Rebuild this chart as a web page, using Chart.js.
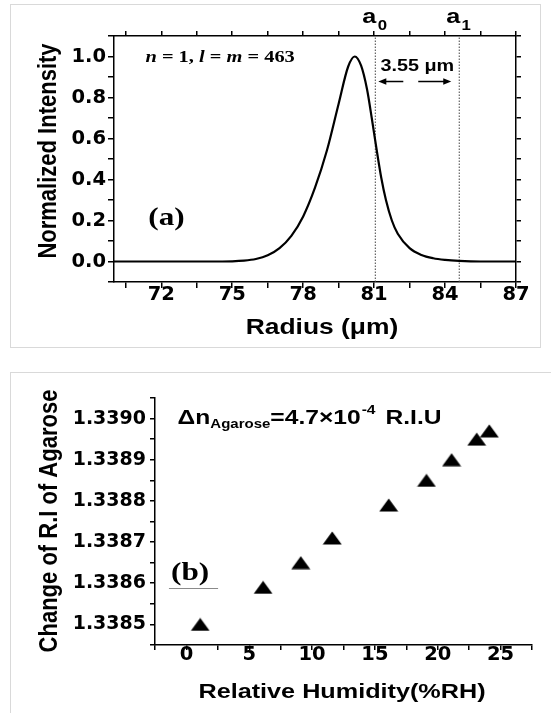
<!DOCTYPE html>
<html>
<head>
<meta charset="utf-8">
<script src="https://cdn.jsdelivr.net/npm/chart.js@4.4.1/dist/chart.umd.min.js"></script>
<style>
  html, body { margin: 0; padding: 0; background: #fff; }
  body { width: 551px; height: 713px; position: relative; overflow: hidden; }
  .frame { position: absolute; border: 1px solid #d9d9d9; box-sizing: border-box; }
  #frameA { left: 10px; top: 4px; width: 531px; height: 344px; }
  #frameB { left: 10px; top: 372px; width: 560px; height: 400px; }
  canvas { position: absolute; left: 0; }
  #chartA { top: 0; }
  #chartB { top: 356px; }
</style>
</head>
<body>
<div class="frame" id="frameA"></div>
<div class="frame" id="frameB"></div>
<canvas id="chartA" width="551" height="350"></canvas>
<canvas id="chartB" width="551" height="357"></canvas>
<script>
// (a) radial intensity profile, n = 1, l = m = 463
const radius = [70, 72, 74, 75, 75.5, 76, 76.5, 77, 77.5, 78, 78.5, 79, 79.5, 79.9, 80.18,
                80.45, 80.7, 80.9, 81.1, 81.3, 81.5, 81.75, 82, 82.5, 83, 83.5, 84, 84.6, 85.5, 87];
const intensity = [0, 0, 0, 0.001, 0.004, 0.012, 0.03, 0.065, 0.125, 0.22, 0.36, 0.54, 0.77, 0.95, 1.0,
                   0.955, 0.84, 0.70, 0.55, 0.41, 0.30, 0.20, 0.135, 0.065, 0.032, 0.016, 0.008, 0.003, 0, 0];
const modeEdges = [81.05, 84.6];          // a0, a1
const edgeIndex = ['0', '1'];
const edgeGap = '3.55 \u03bcm';
const radiusRange = [70, 87];
const intensityRange = [-0.1, 1.1];
const radiusTicks = [72, 75, 78, 81, 84, 87];
const radiusMinor = [70.5, 73.5, 76.5, 79.5, 82.5, 85.5];
const intensityTicks = [0, 0.2, 0.4, 0.6, 0.8, 1.0];
const intensityMinor = [-0.1, 0.1, 0.3, 0.5, 0.7, 0.9, 1.1];

// (b) refractive index of agarose vs relative humidity
const humidity = [1.1, 6.1, 9.1, 11.6, 16.1, 19.1, 21.1, 23.1, 24.1];
const agaroseRI = [1.33850, 1.33859, 1.33865, 1.33871, 1.33879, 1.33885, 1.33890, 1.33895, 1.33897];
const humidityRange = [-2.5, 27.5];
const riRange = [1.33845, 1.33905];
const humidityTicks = [0, 5, 10, 15, 20, 25];
const humidityMinor = [-2.5, 2.5, 7.5, 12.5, 17.5, 22.5, 27.5];
const riTicks = [1.3385, 1.3386, 1.3387, 1.3388, 1.3389, 1.3390];
const riMinor = [1.33845, 1.33855, 1.33865, 1.33875, 1.33885, 1.33895, 1.33905];

const labelFont = { family: 'DejaVu Sans', weight: 'bold', size: 19.5 };

const mergeTicks = (major, minor) =>
  major.map(v => ({ value: v })).concat(minor.map(v => ({ value: v, minor: true })))
    .sort((a, b) => a.value - b.value);

// grid settings that only draw the axis line and short tick marks
const tickGrid = {
  display: true,
  drawOnChartArea: false,
  drawTicks: true,
  tickLength: 6,
  color: '#000',
  tickColor: '#000',
  tickWidth: 1.5,
  lineWidth: 1.5
};
const axisBorder = { display: true, color: '#000', width: 1.5 };

// text drawn a little wider than the font, like the rest of the figure
function wideText(ctx, text, x, y, font, align = 'left', base = 'alphabetic', sx = 1.2) {
  ctx.save();
  ctx.translate(x, y);
  ctx.scale(sx, 1);
  ctx.font = font;
  ctx.textAlign = align;
  ctx.textBaseline = base;
  ctx.fillStyle = '#000';
  ctx.fillText(text, 0, 0);
  const w = ctx.measureText(text).width * sx;
  ctx.restore();
  return w;
}

// rotated axis title, glyphs thickened across the baseline the same way
function sideTitle(ctx, text, x, y) {
  ctx.save();
  ctx.translate(x, y);
  ctx.scale(1.2, 1);
  ctx.rotate(-Math.PI / 2);
  ctx.font = 'bold 22px "Liberation Sans"';
  ctx.textAlign = 'center';
  ctx.textBaseline = 'middle';
  ctx.fillStyle = '#000';
  ctx.fillText(text, 0, 0);
  ctx.restore();
}

function arrow(ctx, x0, x1, y) {
  const dir = Math.sign(x1 - x0);
  ctx.beginPath();
  ctx.moveTo(x0, y);
  ctx.lineTo(x1 - dir * 6, y);
  ctx.stroke();
  ctx.beginPath();
  ctx.moveTo(x1, y);
  ctx.lineTo(x1 - dir * 8, y - 3.2);
  ctx.lineTo(x1 - dir * 8, y + 3.2);
  ctx.closePath();
  ctx.fill();
}

const profileNotes = {
  id: 'profileNotes',
  afterDraw(chart) {
    const ctx = chart.ctx;
    const a = chart.chartArea;
    const x = chart.scales.x, y = chart.scales.y;
    ctx.save();
    // a0 / a1 above the frame
    modeEdges.forEach((r, i) => {
      const px = x.getPixelForValue(r);
      wideText(ctx, 'a', px - 6, a.top - 13, 'bold 21px "Liberation Sans"', 'center');
      wideText(ctx, edgeIndex[i], px + 7, a.top - 6, 'bold 14px "Liberation Sans"', 'center');
    });
    const p0 = x.getPixelForValue(modeEdges[0]);
    const p1 = x.getPixelForValue(modeEdges[1]);
    wideText(ctx, edgeGap, (p0 + p1) / 2, y.getPixelForValue(0.927), 'bold 16.5px "Liberation Sans"', 'center');
    ctx.strokeStyle = '#000';
    ctx.fillStyle = '#000';
    ctx.lineWidth = 1.5;
    const ay = y.getPixelForValue(0.878);
    arrow(ctx, p0 + 28, p0 + 3, ay);
    arrow(ctx, p1 - 41, p1 - 8, ay);

    // mode numbers
    let tx = x.getPixelForValue(71.33);
    const ty = y.getPixelForValue(0.975);
    const it = 'italic bold 17px "Liberation Serif"';
    const up = 'bold 17px "Liberation Serif"';
    [['n', it], [' = 1, ', up], ['l', it], [' = ', up], ['m', it], [' = 463', up]].forEach(([s, f]) => {
      tx += wideText(ctx, s, tx, ty, f);
    });

    wideText(ctx, '(a)', x.getPixelForValue(71.45), y.getPixelForValue(0.21), 'bold 26px "Liberation Serif"', 'left', 'middle');
    sideTitle(ctx, 'Normalized Intensity', 49, 151);
    wideText(ctx, 'Radius (\u03bcm)', 322, 328, 'bold 22px "Liberation Sans"', 'center', 'middle');
    ctx.restore();
  }
};

const humidityNotes = {
  id: 'humidityNotes',
  afterDraw(chart) {
    const ctx = chart.ctx;
    const x = chart.scales.x, y = chart.scales.y;
    ctx.save();
    let tx = x.getPixelForValue(-0.7);
    const ty = y.getPixelForValue(1.338986);
    const main = 'bold 20.5px "Liberation Sans"';
    tx += wideText(ctx, '\u0394n', tx, ty, main);
    tx += wideText(ctx, 'Agarose', tx, ty + 4, 'bold 12.5px "Liberation Sans"');
    tx += wideText(ctx, '=4.7\u00d710', tx, ty, main);
    tx += wideText(ctx, '-4', tx + 1, ty - 10, 'bold 13px "Liberation Sans"');
    wideText(ctx, 'R.I.U', tx + 11, ty, main);

    wideText(ctx, '(b)', x.getPixelForValue(0.3), y.getPixelForValue(1.338625), 'bold 26px "Liberation Serif"', 'center', 'middle');
    ctx.strokeStyle = '#8a8a8a';
    ctx.lineWidth = 1;
    const ly = Math.round(y.getPixelForValue(1.3385878)) + 0.5;
    ctx.beginPath();
    ctx.moveTo(x.getPixelForValue(-1.39), ly);
    ctx.lineTo(x.getPixelForValue(2.52), ly);
    ctx.stroke();
    sideTitle(ctx, 'Change of R.I of Agarose', 50, 165);
    wideText(ctx, 'Relative Humidity(%RH)', 342, 336, 'bold 21px "Liberation Sans"', 'center', 'middle');
    ctx.restore();
  }
};

const triangle = (() => {
  const c = document.createElement('canvas');
  c.width = 20;
  c.height = 14;
  const g = c.getContext('2d');
  g.fillStyle = '#000';
  g.beginPath();
  g.moveTo(10, 0.5);
  g.lineTo(19.5, 13.5);
  g.lineTo(0.5, 13.5);
  g.closePath();
  g.fill();
  return c;
})();

const baseOptions = {
  responsive: false,
  animation: false,
  events: [],
  plugins: { legend: { display: false }, tooltip: { enabled: false } }
};

// mirrored axis on the opposite side: ticks and line, no labels
const mirror = (position, range, major, minor, fit) => ({
  type: 'linear',
  position,
  min: range[0], max: range[1],
  afterBuildTicks: s => { s.ticks = mergeTicks(major, minor); },
  afterFit: fit,
  grid: { ...tickGrid, tickLength: 5 },
  border: axisBorder,
  ticks: { display: false }
});

new Chart(document.getElementById('chartA'), {
  type: 'line',
  data: {
    datasets: [
      {
        data: radius.map((r, i) => ({ x: r, y: intensity[i] })),
        borderColor: '#000',
        borderWidth: 2.2,
        pointRadius: 0,
        cubicInterpolationMode: 'monotone'
      },
      ...modeEdges.map(r => ({
        data: intensityRange.map(v => ({ x: r, y: v })),
        borderColor: '#444',
        borderWidth: 1,
        borderDash: [1.5, 1.5],
        pointRadius: 0
      }))
    ]
  },
  options: {
    ...baseOptions,
    layout: { padding: { top: 36, right: 35, left: 0, bottom: 0 } },
    scales: {
      x: {
        type: 'linear',
        position: 'bottom',
        min: radiusRange[0], max: radiusRange[1],
        afterBuildTicks: s => { s.ticks = mergeTicks(radiusTicks, radiusMinor); },
        afterFit: s => { s.height = 68; },
        grid: tickGrid,
        border: axisBorder,
        ticks: {
          autoSkip: false, maxRotation: 0, padding: -5, color: '#000', font: labelFont,
          callback: (v, i, t) => t[i].minor ? '' : String(v)
        }
      },
      x2: mirror('top', radiusRange, radiusTicks, radiusMinor, s => { s.height = 0; }),
      y: {
        position: 'left',
        min: intensityRange[0], max: intensityRange[1],
        afterBuildTicks: s => { s.ticks = mergeTicks(intensityTicks, intensityMinor); },
        afterFit: s => { s.width = 114; },
        grid: tickGrid,
        border: axisBorder,
        ticks: {
          autoSkip: false, padding: 2, color: '#000', font: labelFont,
          callback: (v, i, t) => t[i].minor ? '' : v.toFixed(1)
        }
      },
      y2: mirror('right', intensityRange, intensityTicks, intensityMinor, s => { s.width = 0; })
    }
  },
  plugins: [profileNotes]
});

new Chart(document.getElementById('chartB'), {
  type: 'scatter',
  data: {
    datasets: [{
      data: humidity.map((h, i) => ({ x: h, y: agaroseRI[i] })),
      pointStyle: triangle,
      pointRadius: 10
    }]
  },
  options: {
    ...baseOptions,
    layout: { padding: { top: 42, right: 19, left: 0, bottom: 0 } },
    scales: {
      x: {
        type: 'linear',
        min: humidityRange[0], max: humidityRange[1],
        afterBuildTicks: s => { s.ticks = mergeTicks(humidityTicks, humidityMinor); },
        afterFit: s => { s.height = 68; },
        grid: { ...tickGrid, tickLength: 5 },
        border: axisBorder,
        ticks: {
          autoSkip: false, maxRotation: 0, padding: -7, color: '#000', font: labelFont,
          callback: (v, i, t) => t[i].minor ? '' : String(v)
        }
      },
      y: {
        min: riRange[0], max: riRange[1],
        afterBuildTicks: s => { s.ticks = mergeTicks(riTicks, riMinor); },
        afterFit: s => { s.width = 155; },
        grid: { ...tickGrid, tickLength: 5 },
        border: axisBorder,
        ticks: {
          autoSkip: false, padding: 4, color: '#000', font: { ...labelFont, size: 19 },
          callback: (v, i, t) => t[i].minor ? '' : v.toFixed(4)
        }
      }
    }
  },
  plugins: [humidityNotes]
});
</script>
</body>
</html>
